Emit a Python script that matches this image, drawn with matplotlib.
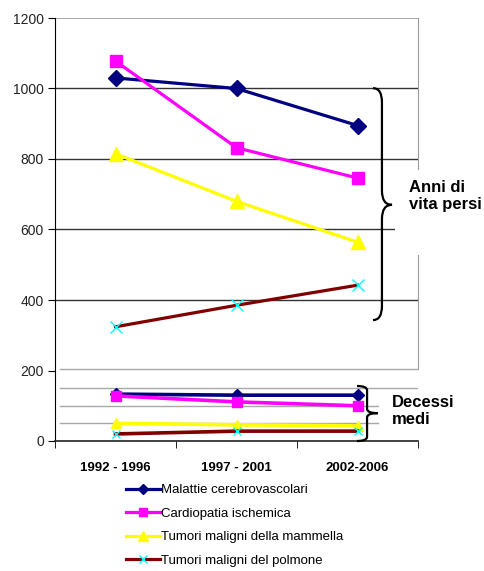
import matplotlib.pyplot as plt
from matplotlib.patches import PathPatch, Rectangle
from matplotlib.path import Path

plt.rcParams["font.family"] = ["Liberation Sans", "DejaVu Sans"]

periods = ["1992 - 1996", "1997 - 2001", "2002-2006"]
labels = [
    "Malattie cerebrovascolari",
    "Cardiopatia ischemica",
    "Tumori maligni della mammella",
    "Tumori maligni del polmone",
]

# anni di vita persi
anni_cerebro = [1030, 1000, 895]
anni_cardio = [1078, 832, 746]
anni_mammella = [815, 680, 564]
anni_polmone = [324, 385, 442]

# decessi medi
decessi_cerebro = [133, 130, 130]
decessi_cardio = [128, 111, 100]
decessi_mammella = [50, 46, 43]
decessi_polmone = [20, 28, 28]

styles = [
    dict(color="#000080", marker="D", mfc="#000080", mec="#000080", ms=8),
    dict(color="#ff00ff", marker="s", mfc="#ff00ff", mec="#ff00ff", ms=9),
    dict(color="#ffff00", marker="^", mfc="#ffff00", mec="#ffff00", ms=10),
    dict(color="#800000", marker="x", mfc="#00ffff", mec="#00ffff", ms=8, mew=1),
]


def brace(ax, x_tip, x_spine, x_point, y_bot, y_top, y_mid, r):
    """Curly bracket opening to the left, drawn in data coordinates."""
    verts = [
        (x_tip, y_top), (x_spine, y_top), (x_spine, y_top - r),
        (x_spine, y_mid + r), (x_spine, y_mid), (x_point, y_mid),
        (x_spine, y_mid), (x_spine, y_mid - r),
        (x_spine, y_bot + r), (x_spine, y_bot), (x_tip, y_bot),
    ]
    codes = [
        Path.MOVETO, Path.CURVE3, Path.CURVE3,
        Path.LINETO, Path.CURVE3, Path.CURVE3,
        Path.CURVE3, Path.CURVE3,
        Path.LINETO, Path.CURVE3, Path.CURVE3,
    ]
    ax.add_patch(PathPatch(Path(verts, codes), fc="none", ec="black",
                           lw=1.6, clip_on=False, zorder=6))


fig = plt.figure(figsize=(4.84, 5.71), dpi=100)
ax = fig.add_axes([55 / 484, 1 - 441 / 571, 363 / 484, 423 / 571])

x = range(len(periods))
anni = [anni_cerebro, anni_cardio, anni_mammella, anni_polmone]
decessi = [decessi_cerebro, decessi_cardio, decessi_mammella, decessi_polmone]

for vals, lab, st in zip(anni, labels, styles):
    ax.plot(x, vals, lw=2.3, label=lab, zorder=4, **st)

for vals, st in zip(decessi, styles):
    small = dict(st)
    small["ms"] = st["ms"] * 0.75
    ax.plot(x, vals, lw=2.6, zorder=4, **small)

ax.set_xlim(-0.5, 2.5)
ax.set_ylim(0, 1200)

# grid: dark in the upper panel, light in the lower one
for y in [400, 600, 800, 1000]:
    ax.axhline(y, color="#333333", lw=1.0, zorder=1)
ax.axhline(1200, color="#9a9a9a", lw=1.2, zorder=1)
for y in [150, 205]:
    ax.axhline(y, color="#a8a8a8", lw=1.0, zorder=1, xmin=0.015)
for y in [50, 100]:
    ax.axhline(y, color="#a8a8a8", lw=1.0, zorder=1, xmin=0.015, xmax=0.89)

ax.spines["top"].set_visible(False)
ax.spines["right"].set_color("#9a9a9a")
ax.spines["right"].set_bounds(205, 1200)
ax.spines["left"].set_color("black")
ax.spines["bottom"].set_color("#222222")
ax.spines["bottom"].set_linewidth(1.2)

ax.set_yticks(range(0, 1201, 200))
ax.tick_params(axis="y", direction="out", length=5, labelsize=10,
               labelcolor="#222222", pad=3)
ax.set_xticks(list(x))
ax.set_xticklabels(periods, fontweight="bold", fontsize=9.5)
ax.set_xticks([-0.5, 0.5, 1.5, 2.5], minor=True)
ax.tick_params(axis="x", which="major", length=0, pad=15)
ax.tick_params(axis="x", which="minor", length=5, direction="out")

# white box behind the upper label, cutting the frame
fig.patches.append(Rectangle((395 / 484, 1 - 255 / 571), 89 / 484, 85 / 571,
                             transform=fig.transFigure, fc="white", ec="none", zorder=5))

brace(ax, 2.128, 2.202, 2.285, 343, 1001, 670, 40)
brace(ax, 1.996, 2.079, 2.169, 0, 156, 79, 12)

fig.text(409 / 484, 1 - 196 / 571, "Anni di\nvita persi", fontsize=12,
         fontweight="bold", va="center", ha="left", linespacing=1.15, zorder=7)
fig.text(392 / 484, 1 - 411 / 571, "Decessi\nmedi", fontsize=12,
         fontweight="bold", va="center", ha="left", linespacing=1.15, zorder=7)

fig.legend(loc="upper left", bbox_to_anchor=(126 / 484, 1 - 484 / 571),
           frameon=False, fontsize=9.5, handlelength=2.6, handletextpad=0.05,
           labelspacing=0.85, markerscale=0.65, borderpad=0, borderaxespad=0)

fig.savefig("out.png", dpi=100)
